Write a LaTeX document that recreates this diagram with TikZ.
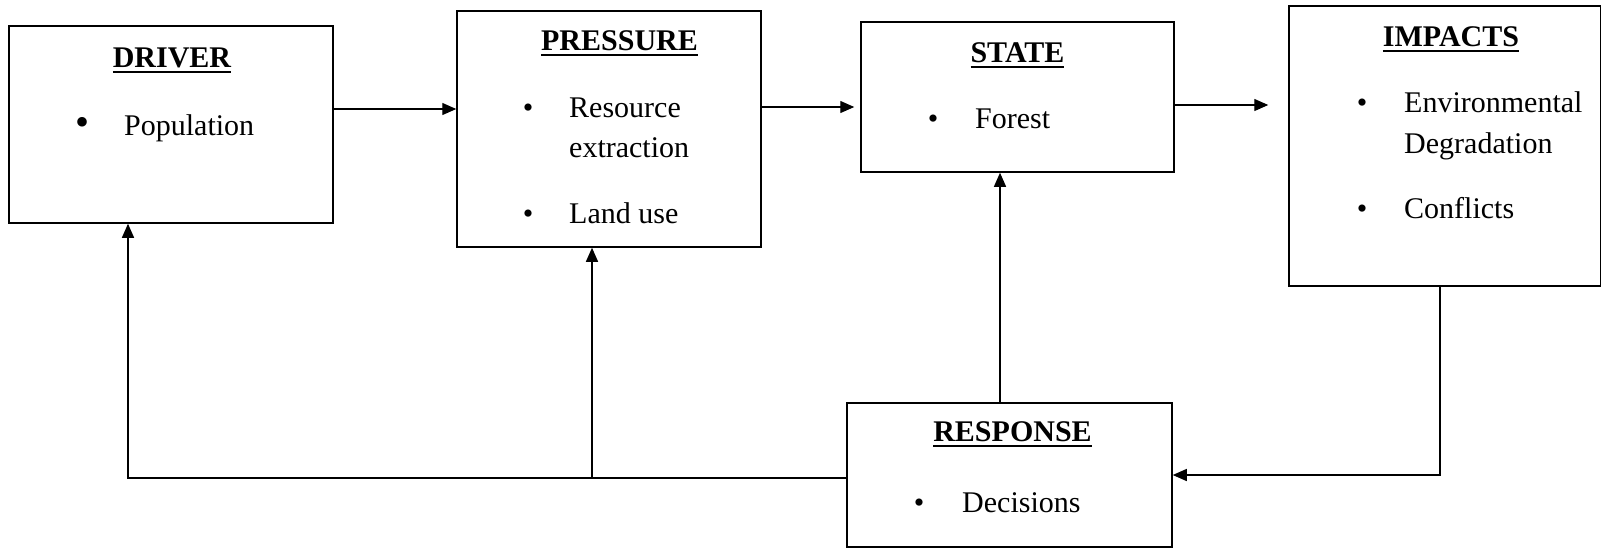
\documentclass[tikz,border=0pt]{standalone}
\usepackage{fontspec}
\setmainfont{Liberation Serif}
\usepackage{tikz}
\usetikzlibrary{arrows.meta}
\usetikzlibrary{calc}

\newcommand{\headtxt}[1]{\setbox0=\hbox{#1}\rlap{\rule[-6.2pt]{\wd0}{2.4pt}}\box0}

\begin{document}
\begin{tikzpicture}[x=1pt,y=-1pt,
		block/.style={draw,line width=1.5pt,inner sep=0pt},
		flow/.style={line width=1.3pt,-{Triangle[length=14pt,width=12pt]}},
		txt/.style={inner sep=0pt,anchor=base west,font=\fontsize{30}{36}\selectfont},
		ttl/.style={inner sep=0pt,anchor=base,font=\fontsize{30}{36}\selectfont\bfseries},
		dot/.style={inner sep=0pt,anchor=base,font=\fontsize{30}{36}\selectfont}]
			\useasboundingbox (0,0) rectangle (1601,550);
			% boxes
			\node[block,minimum width=324pt,minimum height=197pt] (driver) at (171,124.5) {};
			\node[block,minimum width=304pt,minimum height=236pt] (pressure) at (609,129) {};
			\node[block,minimum width=313pt,minimum height=150pt] (state) at (1017.5,97) {};
			\node[block,minimum width=312pt,minimum height=280pt] (impacts) at (1445,146) {};
			\node[block,minimum width=325pt,minimum height=144pt] (response) at (1009.5,475) {};
			% driver
			\node[ttl] (drivertitle) at (172,67) {\headtxt{DRIVER}};
			\node[dot,font=\fontsize{40}{40}\selectfont] (driverdot) at (83,135) {\textbullet};
			\node[txt] (population) at (124,135) {Population};
			% pressure
			\node[ttl] (pressuretitle) at (619.5,50) {\headtxt{PRESSURE}};
			\node[dot] (resourcedot) at (528,117) {\textbullet};
			\node[txt] (resource) at (569,117) {Resource};
			\node[txt] (extraction) at (569,157) {extraction};
			\node[dot] (landdot) at (528,223) {\textbullet};
			\node[txt] (landuse) at (569,223) {Land use};
			% state
			\node[ttl] (statetitle) at (1017.5,62) {\headtxt{STATE}};
			\node[dot] (forestdot) at (933,128) {\textbullet};
			\node[txt] (forest) at (975,128) {Forest};
			% impacts
			\node[ttl] (impactstitle) at (1451,46) {\headtxt{IMPACTS}};
			\node[dot] (envdot) at (1362,112) {\textbullet};
			\node[txt] (environmental) at (1404,112) {Environmental};
			\node[txt] (degradation) at (1404,153) {Degradation};
			\node[dot] (conflictdot) at (1362,218) {\textbullet};
			\node[txt] (conflicts) at (1404,218) {Conflicts};
			% response
			\node[ttl] (responsetitle) at (1012.5,441) {\headtxt{RESPONSE}};
			\node[dot] (decisiondot) at (919,512) {\textbullet};
			\node[txt] (decisions) at (962,512) {Decisions};
			% connectors
			\draw[flow] ([yshift=15.5pt]driver.east) -- ([yshift=15.5pt]driver.east -| pressure.west);
			\draw[flow,shorten >=6pt] ([yshift=22pt]pressure.east) -- ([yshift=22pt]pressure.east -| state.west);
			\draw[flow,shorten >=20pt] ([yshift=-8pt]state.east) -- ([yshift=-8pt]state.east -| impacts.west);
			\draw[flow] ([xshift=-9.5pt]response.north) -- ([xshift=-9.5pt]response.north |- state.south);
			\draw[flow] ([xshift=-5pt]impacts.south) |- (response.east);
			\draw[flow] ([yshift=-3pt]response.west) -| ([xshift=-43pt]driver.south);
			\coordinate (branch) at (592,478);
			\draw[flow] (branch) -- (branch |- pressure.south);
		\end{tikzpicture}
\end{document}
